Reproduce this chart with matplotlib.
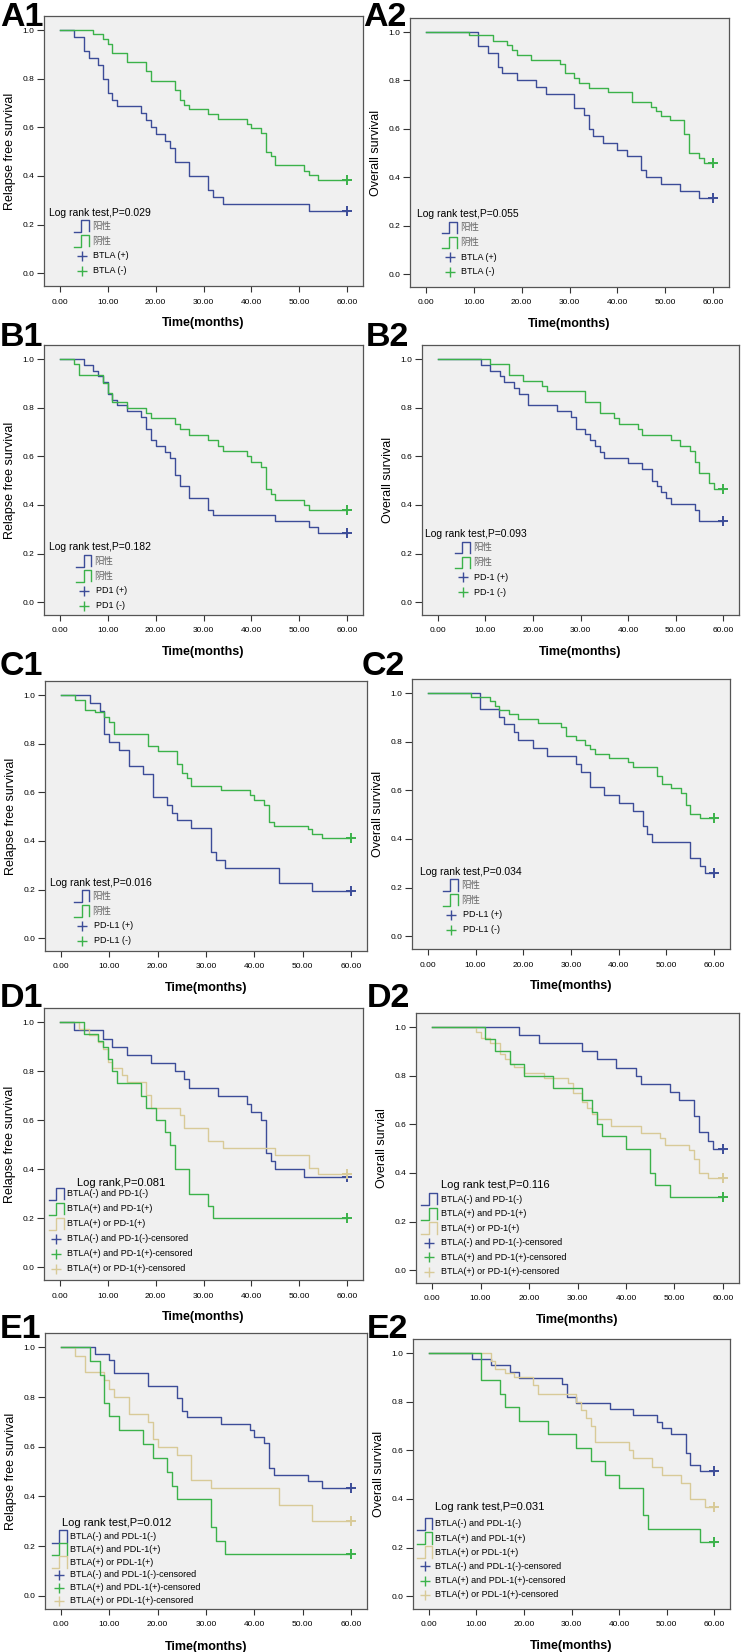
import numpy as np
import matplotlib
matplotlib.use('Agg')
import matplotlib.pyplot as plt

plt.rcParams['font.family'] = ['Liberation Sans', 'DejaVu Sans']

# ---------------- data (time of event, survival after step) ----------------
a1_pos_t = [3, 5, 6, 8, 9, 10, 11, 12, 17, 18, 19, 20, 22, 23, 24, 27, 31, 32, 34, 52]
a1_pos_s = [0.971, 0.914, 0.886, 0.857, 0.80, 0.743, 0.714, 0.686, 0.657, 0.629, 0.60, 0.571,
            0.543, 0.514, 0.457, 0.40, 0.343, 0.314, 0.286, 0.257]
a1_neg_t = [7, 9, 10, 11, 14, 18, 19, 24, 25, 26, 27, 31, 33, 39, 40, 42, 43, 44, 45, 51, 52, 54]
a1_neg_s = [0.983, 0.963, 0.944, 0.905, 0.868, 0.83, 0.79, 0.752, 0.713, 0.693, 0.675, 0.654,
            0.635, 0.615, 0.597, 0.576, 0.498, 0.481, 0.444, 0.422, 0.405, 0.384]

a2_pos_t = [11, 13, 15, 16, 19, 23, 25, 31, 33, 34, 35, 37, 40, 42, 45, 46, 49, 53, 57]
a2_pos_s = [0.943, 0.914, 0.857, 0.829, 0.80, 0.771, 0.743, 0.686, 0.657, 0.60, 0.571, 0.543,
            0.514, 0.486, 0.429, 0.40, 0.371, 0.343, 0.314]
a2_neg_t = [9, 14, 17, 18, 19, 22, 28, 29, 31, 32, 34, 38, 43, 47, 48, 49, 51, 54, 55, 57, 58]
a2_neg_s = [0.986, 0.963, 0.945, 0.926, 0.905, 0.885, 0.867, 0.83, 0.81, 0.79, 0.77, 0.751,
            0.712, 0.692, 0.673, 0.653, 0.637, 0.577, 0.50, 0.481, 0.46]

b1_pos_t = [5, 7, 8, 9, 10, 11, 12, 14, 17, 18, 19, 20, 22, 23, 24, 25, 27, 31, 32, 45, 52, 54]
b1_pos_s = [0.976, 0.952, 0.929, 0.905, 0.857, 0.833, 0.81, 0.786, 0.762, 0.714, 0.667, 0.643,
            0.619, 0.595, 0.524, 0.476, 0.429, 0.381, 0.357, 0.333, 0.31, 0.286]
b1_neg_t = [3, 4, 9, 10, 11, 14, 18, 19, 24, 25, 27, 31, 33, 34, 39, 40, 42, 43, 44, 45, 51, 52]
b1_neg_s = [0.978, 0.933, 0.90, 0.86, 0.822, 0.80, 0.778, 0.756, 0.733, 0.711, 0.689, 0.667,
            0.644, 0.622, 0.60, 0.578, 0.556, 0.467, 0.444, 0.422, 0.40, 0.378]

b2_pos_t = [9, 11, 13, 14, 16, 17, 19, 25, 28, 29, 31, 32, 33, 34, 35, 40, 43, 45, 46, 47, 48, 49, 54, 55]
b2_pos_s = [0.976, 0.952, 0.929, 0.905, 0.881, 0.857, 0.81, 0.786, 0.762, 0.714, 0.69, 0.667,
            0.643, 0.619, 0.595, 0.571, 0.548, 0.50, 0.476, 0.452, 0.429, 0.405, 0.381, 0.333]
b2_neg_t = [11, 15, 18, 22, 23, 31, 34, 37, 38, 42, 43, 49, 51, 53, 54, 55, 57, 58]
b2_neg_s = [0.978, 0.933, 0.911, 0.889, 0.867, 0.822, 0.778, 0.756, 0.733, 0.711, 0.689, 0.667,
            0.644, 0.622, 0.578, 0.533, 0.489, 0.467]

c1_pos_t = [6, 8, 9, 10, 12, 14, 17, 19, 22, 23, 24, 27, 31, 32, 34, 45, 52]
c1_pos_s = [0.968, 0.935, 0.839, 0.806, 0.774, 0.71, 0.677, 0.581, 0.548, 0.516, 0.484, 0.452,
            0.355, 0.323, 0.29, 0.226, 0.194]
c1_neg_t = [3, 5, 7, 9, 10, 11, 18, 20, 24, 25, 26, 27, 33, 39, 40, 42, 43, 44, 51, 52, 54]
c1_neg_s = [0.98, 0.94, 0.93, 0.91, 0.89, 0.84, 0.789, 0.77, 0.715, 0.679, 0.66, 0.627, 0.608,
            0.588, 0.567, 0.548, 0.479, 0.463, 0.448, 0.429, 0.41]

c2_pos_t = [11, 15, 16, 18, 19, 22, 25, 31, 32, 34, 37, 40, 43, 45, 46, 47, 55, 57, 58]
c2_pos_s = [0.935, 0.903, 0.871, 0.839, 0.806, 0.774, 0.742, 0.71, 0.677, 0.613, 0.581, 0.548,
            0.516, 0.452, 0.419, 0.387, 0.323, 0.29, 0.258]
c2_neg_t = [9, 13, 14, 15, 17, 19, 23, 28, 29, 31, 33, 34, 35, 38, 42, 43, 48, 49, 51, 53, 54, 55, 57]
c2_neg_s = [0.984, 0.967, 0.947, 0.929, 0.912, 0.895, 0.878, 0.86, 0.823, 0.805, 0.785, 0.768,
            0.75, 0.733, 0.715, 0.696, 0.659, 0.627, 0.61, 0.59, 0.538, 0.501, 0.484]

d1_neg_t = [3, 9, 11, 14, 19, 24, 26, 27, 33, 39, 40, 42, 43, 44, 45, 51]
d1_neg_s = [0.967, 0.933, 0.90, 0.867, 0.833, 0.80, 0.767, 0.733, 0.70, 0.667, 0.633, 0.60,
            0.467, 0.433, 0.40, 0.367]
d1_both_t = [5, 8, 9, 10, 11, 12, 17, 18, 20, 22, 23, 24, 27, 31, 32]
d1_both_s = [0.95, 0.925, 0.90, 0.85, 0.80, 0.75, 0.70, 0.65, 0.60, 0.55, 0.50, 0.40, 0.30, 0.25, 0.20]
d1_either_t = [4, 6, 8, 9, 10, 11, 13, 14, 18, 19, 25, 26, 31, 34, 45, 52, 54]
d1_either_s = [0.973, 0.946, 0.919, 0.892, 0.838, 0.811, 0.784, 0.757, 0.703, 0.649, 0.622,
               0.568, 0.514, 0.486, 0.459, 0.405, 0.378]

d2_neg_t = [18, 22, 31, 34, 38, 42, 43, 49, 51, 54, 55, 57, 58]
d2_neg_s = [0.967, 0.933, 0.90, 0.867, 0.833, 0.80, 0.767, 0.733, 0.70, 0.633, 0.567, 0.533, 0.50]
d2_both_t = [11, 13, 16, 19, 25, 31, 33, 34, 35, 40, 45, 46, 49]
d2_both_s = [0.95, 0.90, 0.85, 0.80, 0.75, 0.70, 0.65, 0.60, 0.55, 0.50, 0.40, 0.35, 0.30]
d2_either_t = [9, 10, 12, 14, 15, 16, 17, 19, 23, 28, 29, 31, 32, 33, 34, 37, 43, 47, 48, 53, 54, 55, 57]
d2_either_s = [0.978, 0.957, 0.935, 0.891, 0.87, 0.848, 0.837, 0.81, 0.79, 0.77, 0.73, 0.69,
               0.668, 0.644, 0.62, 0.593, 0.566, 0.545, 0.514, 0.493, 0.456, 0.40, 0.377]

e1_neg_t = [7, 10, 11, 18, 24, 25, 26, 33, 39, 40, 42, 43, 44, 51, 54]
e1_neg_s = [0.974, 0.949, 0.897, 0.846, 0.795, 0.744, 0.718, 0.692, 0.667, 0.641, 0.615, 0.513,
            0.487, 0.462, 0.436]
e1_both_t = [6, 8, 9, 10, 12, 17, 19, 22, 23, 24, 31, 32, 34]
e1_both_s = [0.944, 0.889, 0.778, 0.722, 0.667, 0.611, 0.556, 0.50, 0.444, 0.389, 0.278, 0.222, 0.167]
e1_either_t = [3, 5, 9, 10, 11, 14, 18, 19, 20, 24, 27, 31, 45, 52]
e1_either_s = [0.967, 0.90, 0.867, 0.833, 0.80, 0.733, 0.70, 0.633, 0.60, 0.567, 0.467, 0.433, 0.367, 0.30]

e2_neg_t = [9, 13, 17, 19, 28, 29, 31, 38, 43, 48, 49, 51, 54, 55, 57]
e2_neg_s = [0.974, 0.949, 0.923, 0.897, 0.872, 0.821, 0.795, 0.769, 0.744, 0.718, 0.692, 0.667,
            0.59, 0.538, 0.513]
e2_both_t = [11, 15, 16, 19, 25, 31, 34, 37, 40, 45, 46, 57]
e2_both_s = [0.889, 0.833, 0.778, 0.722, 0.667, 0.611, 0.556, 0.50, 0.444, 0.333, 0.278, 0.222]
e2_either_t = [13, 14, 16, 18, 22, 23, 31, 32, 33, 34, 35, 42, 43, 47, 49, 53, 55, 58]
e2_either_s = [0.967, 0.933, 0.92, 0.90, 0.867, 0.833, 0.80, 0.767, 0.733, 0.70, 0.633, 0.60,
               0.567, 0.533, 0.50, 0.467, 0.40, 0.367]

x_ticks = [0, 10, 20, 30, 40, 50, 60]
y_ticks = [0.0, 0.2, 0.4, 0.6, 0.8, 1.0]
end_time = 60

p_values = ['0.029', '0.055', '0.182', '0.093', '0.016', '0.034', '0.081', '0.116', '0.012', '0.031']
cn_labels = ['阳性', '阴性']
d_labels = ['BTLA(-) and PD-1(-)', 'BTLA(+) and PD-1(+)', 'BTLA(+) or PD-1(+)',
            'BTLA(-) and PD-1(-)-censored', 'BTLA(+) and PD-1(+)-censored', 'BTLA(+) or PD-1(+)-censored']
e_labels = ['BTLA(-) and PDL-1(-)', 'BTLA(+) and PDL-1(+)', 'BTLA(+) or PDL-1(+)',
            'BTLA(-) and PDL-1(-)-censored', 'BTLA(+) and PDL-1(+)-censored', 'BTLA(+) or PDL-1(+)-censored']

# ---------------- style ----------------
BLUE = '#3c4c98'
GREEN = '#3bb24a'
TAN = '#d8ca98'
BG = '#f0f0f0'
W, H = 743, 1652

fig = plt.figure(figsize=(W / 100, H / 100), dpi=100)


def make_axes(L, R, T, B):
    return fig.add_axes([L / W, 1 - B / H, (R - L) / W, (B - T) / H])


def km(ax, t, s, color):
    x = np.r_[0, t, end_time]
    y = np.r_[1.0, s, s[-1]]
    ax.step(x, y, where='post', color=color, lw=1.0, zorder=3)
    ax.plot([end_time], [s[-1]], marker='+', color=color, ms=6.5, mew=1.4, zorder=4)


def style(ax, ylabel):
    ax.set_facecolor(BG)
    ax.set_xlim(-3.3, 63.3)
    ax.set_ylim(-0.053, 1.058)
    ax.set_xticks(x_ticks)
    ax.set_xticklabels([f'{v:.2f}' for v in x_ticks])
    ax.set_yticks(y_ticks)
    ax.set_yticklabels([f'{v:.1f}' for v in y_ticks])
    ax.tick_params(axis='x', direction='out', length=4, width=0.8, color='#333333',
                   labelsize=6, pad=5)
    ax.tick_params(axis='y', direction='out', length=5, width=0.8, color='#333333',
                   labelsize=6, pad=2)
    for sp in ax.spines.values():
        sp.set_color('#555555')
        sp.set_linewidth(0.9)
    ax.set_ylabel(ylabel, fontsize=9)
    ax.yaxis.set_label_coords(-0.088, 0.5)
    ax.set_xlabel('Time(months)', fontsize=9, fontweight='bold')
    ax.xaxis.set_label_coords(0.5, -0.115)


def step_icon(ax, x0, yc, w, h, color):
    xs = np.array([0, 0.5, 0.5, 1, 1]) * w + x0
    ys = (np.array([0, 0, 1, 1, 0.05]) - 0.5) * h + yc
    ax.plot(xs, ys, color=color, lw=1.0, transform=ax.transAxes, clip_on=False, zorder=5)


def legend2(ax, p, names, tx, ty, ix):
    ax.text(tx, ty, f'Log rank test,P={p}', transform=ax.transAxes, fontsize=7.5,
            va='center', ha='left')
    rows = [ty - 0.05 - 0.055 * k for k in range(4)]
    for k, (c, cn) in enumerate(zip([BLUE, GREEN], cn_labels)):
        step_icon(ax, ix, rows[k], 0.048, 0.043, c)
        ax.text(ix + 0.058, rows[k], cn, transform=ax.transAxes, fontsize=6.8,
                va='center', ha='left', color='#666666',
                family=['Noto Sans CJK SC', 'DejaVu Sans'])
    for k, (c, nm) in enumerate(zip([BLUE, GREEN], names)):
        ax.plot([ix + 0.025], [rows[k + 2]], marker='+', color=c, ms=7, mew=1.0,
                transform=ax.transAxes, clip_on=False)
        ax.text(ix + 0.062, rows[k + 2], nm, transform=ax.transAxes, fontsize=6.5,
                va='center', ha='left')


def legend3(ax, title, labels, tx, ty, r1, dy, ix, textx):
    ax.text(tx, ty, title, transform=ax.transAxes, fontsize=8, va='center', ha='left')
    cols = [BLUE, GREEN, TAN]
    for k in range(6):
        y = r1 - dy * k
        c = cols[k % 3]
        if k < 3:
            step_icon(ax, ix, y, 0.047, 0.045, c)
        else:
            ax.plot([ix + 0.024], [y], marker='+', color=c, ms=7, mew=1.0,
                    transform=ax.transAxes, clip_on=False)
        ax.text(textx, y, labels[k], transform=ax.transAxes, fontsize=6.5,
                va='center', ha='left')


def panel_label(txt, x, y):
    fig.text(x / W, 1 - y / H, txt, fontsize=24.5, fontweight='bold', ha='left',
             va='baseline')


RFS = 'Relapse free survival'
OS = 'Overall survival'

# A1
ax = make_axes(44, 363, 16, 286)
style(ax, RFS)
km(ax, a1_pos_t, a1_pos_s, BLUE)
km(ax, a1_neg_t, a1_neg_s, GREEN)
legend2(ax, p_values[0], ['BTLA (+)', 'BTLA (-)'], 0.016, 0.272, 0.093)
panel_label('A1', 0, 26)

# A2
ax = make_axes(410, 729, 18, 287)
style(ax, OS)
km(ax, a2_pos_t, a2_pos_s, BLUE)
km(ax, a2_neg_t, a2_neg_s, GREEN)
legend2(ax, p_values[1], ['BTLA (+)', 'BTLA (-)'], 0.021, 0.271, 0.099)
panel_label('A2', 363, 26)

# B1
ax = make_axes(44, 363, 345, 615)
style(ax, RFS)
km(ax, b1_pos_t, b1_pos_s, BLUE)
km(ax, b1_neg_t, b1_neg_s, GREEN)
legend2(ax, p_values[2], ['PD1 (+)', 'PD1 (-)'], 0.016, 0.25, 0.10)
panel_label('B1', 0, 346)

# B2
ax = make_axes(422, 739, 345, 615)
style(ax, OS)
km(ax, b2_pos_t, b2_pos_s, BLUE)
km(ax, b2_neg_t, b2_neg_s, GREEN)
legend2(ax, p_values[3], ['PD-1 (+)', 'PD-1 (-)'], 0.011, 0.30, 0.103)
panel_label('B2', 366, 346)

# C1
ax = make_axes(45, 367, 681, 951)
style(ax, RFS)
km(ax, c1_pos_t, c1_pos_s, BLUE)
km(ax, c1_neg_t, c1_neg_s, GREEN)
legend2(ax, p_values[4], ['PD-L1 (+)', 'PD-L1 (-)'], 0.016, 0.253, 0.09)
panel_label('C1', 0, 675)

# C2
ax = make_axes(412, 730, 679, 949)
style(ax, OS)
km(ax, c2_pos_t, c2_pos_s, BLUE)
km(ax, c2_neg_t, c2_neg_s, GREEN)
legend2(ax, p_values[5], ['PD-L1 (+)', 'PD-L1 (-)'], 0.024, 0.286, 0.097)
panel_label('C2', 362, 675)

# D1
ax = make_axes(44, 363, 1008, 1280)
style(ax, RFS)
km(ax, d1_neg_t, d1_neg_s, BLUE)
km(ax, d1_either_t, d1_either_s, TAN)
km(ax, d1_both_t, d1_both_s, GREEN)
legend3(ax, f'Log rank,P={p_values[6]}', d_labels, 0.103, 0.358, 0.317, 0.055, 0.015, 0.072)
panel_label('D1', 0, 1007)

# D2
ax = make_axes(416, 739, 1013, 1283)
style(ax, 'Overall survial')
km(ax, d2_neg_t, d2_neg_s, BLUE)
km(ax, d2_either_t, d2_either_s, TAN)
km(ax, d2_both_t, d2_both_s, GREEN)
legend3(ax, f'Log rank test,P={p_values[7]}', d_labels, 0.077, 0.364, 0.311, 0.054, 0.017, 0.077)
panel_label('D2', 367, 1007)

# E1
ax = make_axes(45, 367, 1333, 1609)
style(ax, RFS)
km(ax, e1_neg_t, e1_neg_s, BLUE)
km(ax, e1_either_t, e1_either_s, TAN)
km(ax, e1_both_t, e1_both_s, GREEN)
legend3(ax, f'Log rank test,P={p_values[8]}', e_labels, 0.052, 0.312, 0.263, 0.0466, 0.021, 0.078)
panel_label('E1', 0, 1338)

# E2
ax = make_axes(413, 730, 1339, 1609)
style(ax, OS)
km(ax, e2_neg_t, e2_neg_s, BLUE)
km(ax, e2_either_t, e2_either_s, TAN)
km(ax, e2_both_t, e2_both_s, GREEN)
legend3(ax, f'Log rank test,P={p_values[9]}', e_labels, 0.068, 0.377, 0.315, 0.0524, 0.013, 0.07)
panel_label('E2', 367, 1338)

fig.savefig('out.png', dpi=100, facecolor='white')
